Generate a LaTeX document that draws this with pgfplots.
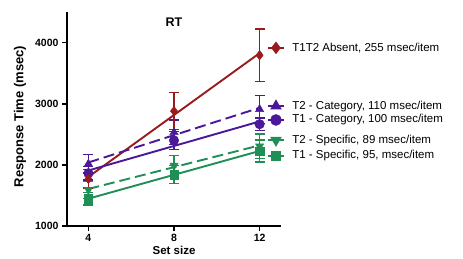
\documentclass[border=0pt]{standalone}
\usepackage{pgfplots}
\pgfplotsset{compat=1.18}
\usepackage{pgfplotstable}
\usepackage{fontspec}
\setmainfont{Liberation Sans}

\definecolor{absentcol}{HTML}{9A1A1E}
\definecolor{catcol}{HTML}{4A1898}
\definecolor{speccol}{HTML}{1F8F55}

% mean RT per set size, with error
\pgfplotstableread{
x y e
4 1770 150
8 2880 300
12 3794 430
}\absent
\pgfplotstableread{
x y e
4 2016 150
8 2532 200
12 2910 230
}\ttwocat
\pgfplotstableread{
x y e
4 1863 110
8 2400 150
12 2665 100
}\tonecat
\pgfplotstableread{
x y e
4 1592 140
8 1990 160
12 2305 200
}\ttwospec
\pgfplotstableread{
x y e
4 1445 100
8 1842 150
12 2225 180
}\tonespec

\begin{document}
\begin{tikzpicture}
\begin{axis}[
  at={(0,0)}, anchor=south west,
  width=214pt, height=214pt, scale only axis,
  xmin=3, xmax=13, ymin=1000, ymax=4500,
  axis x line*=bottom, axis y line*=left,
  axis line style={line width=2.1pt, black, -},
  xtick={4,8,12}, ytick={1000,2000,3000,4000},
  minor tick num=0,
  tick style={line width=1.6pt, black},
  major tick length=5pt,
  tick align=outside,
  ticklabel style={font=\fontsize{10.5}{12}\selectfont\bfseries},
  /pgf/number format/assume math mode=true,
  /pgf/number format/1000 sep={},
  scaled y ticks=false,
  clip=false,
  error bars/y dir=both, error bars/y explicit,
  error bars/error bar style={line width=1.3pt},
  error bars/error mark options={rotate=90, mark size=5pt, line width=1.3pt},
]
% fitted lines (slopes 255, 110, 100, 89, 95 msec/item)
\addplot[absentcol, line width=1.9pt, no marks] coordinates {(4,1803) (12,3827)};
\addplot[catcol, line width=1.9pt, no marks, dash pattern=on 11pt off 5pt] coordinates {(4,2039) (12,2933)};
\addplot[catcol, line width=1.9pt, no marks] coordinates {(4,1908) (12,2710)};
\addplot[speccol, line width=1.9pt, no marks, dash pattern=on 11pt off 5pt] coordinates {(4,1606) (12,2319)};
\addplot[speccol, line width=1.9pt, no marks] coordinates {(4,1447) (12,2227)};

% means with error bars
\addplot[speccol, only marks, mark=square*, mark size=4.2pt] table[x=x, y=y, y error=e] {\tonespec};
\addplot[speccol, only marks, mark=triangle*, mark size=4.8pt, mark options={rotate=180}] table[x=x, y=y, y error=e] {\ttwospec};
\addplot[catcol, only marks, mark=*, mark size=4.8pt] table[x=x, y=y, y error=e] {\tonecat};
\addplot[catcol, only marks, mark=triangle*, mark size=4.8pt] table[x=x, y=y, y error=e] {\ttwocat};
\addplot[absentcol, only marks, mark=diamond*, mark size=4.8pt] table[x=x, y=y, y error=e] {\absent};

% key
\addplot[absentcol, line width=1.9pt, mark=diamond*, mark size=4.8pt, mark indices={2}, error bars/y dir=none]
  coordinates {(12.37,3913) (12.765,3913) (13.16,3913)};
\addplot[catcol, line width=1.9pt, mark=triangle*, mark size=4.8pt, mark indices={2}, error bars/y dir=none]
  coordinates {(12.37,2962) (12.765,2962) (13.16,2962)};
\addplot[catcol, line width=1.9pt, mark=*, mark size=4.8pt, mark indices={2}, error bars/y dir=none]
  coordinates {(12.37,2734) (12.765,2734) (13.16,2734)};
\addplot[speccol, line width=1.9pt, mark=triangle*, mark size=4.8pt, mark options={rotate=180}, mark indices={2}, error bars/y dir=none]
  coordinates {(12.37,2403) (12.765,2403) (13.16,2403)};
\addplot[speccol, line width=1.9pt, mark=square*, mark size=4.2pt, mark indices={2}, error bars/y dir=none]
  coordinates {(12.37,2147) (12.765,2147) (13.16,2147)};

\begin{scope}[every node/.style={anchor=west, inner sep=0pt, font=\fontsize{11.5}{13}\selectfont}]
\node at (axis cs:13.52,3913) {T1T2 Absent, 255 msec/item};
\node at (axis cs:13.52,2962) {T2 - Category, 110 msec/item};
\node at (axis cs:13.52,2734) {T1 - Category, 100 msec/item};
\node at (axis cs:13.52,2403) {T2 - Specific, 89 msec/item};
\node at (axis cs:13.52,2147) {T1 - Specific, 95, msec/item};
\end{scope}
\node[font=\fontsize{12.5}{14}\selectfont\bfseries] at (axis cs:8,4337) {RT};
\end{axis}
\node[rotate=90, font=\fontsize{13}{15}\selectfont\bfseries] at (-47pt,109.5pt) {Response Time (msec)};
\node[anchor=base, inner sep=0pt, font=\fontsize{11.5}{13}\selectfont\bfseries] at (107pt,-28.8pt) {Set size};
\pgfresetboundingbox
\path[use as bounding box] (-67pt,-32pt) rectangle (396pt,226pt);
\end{tikzpicture}
\end{document}
